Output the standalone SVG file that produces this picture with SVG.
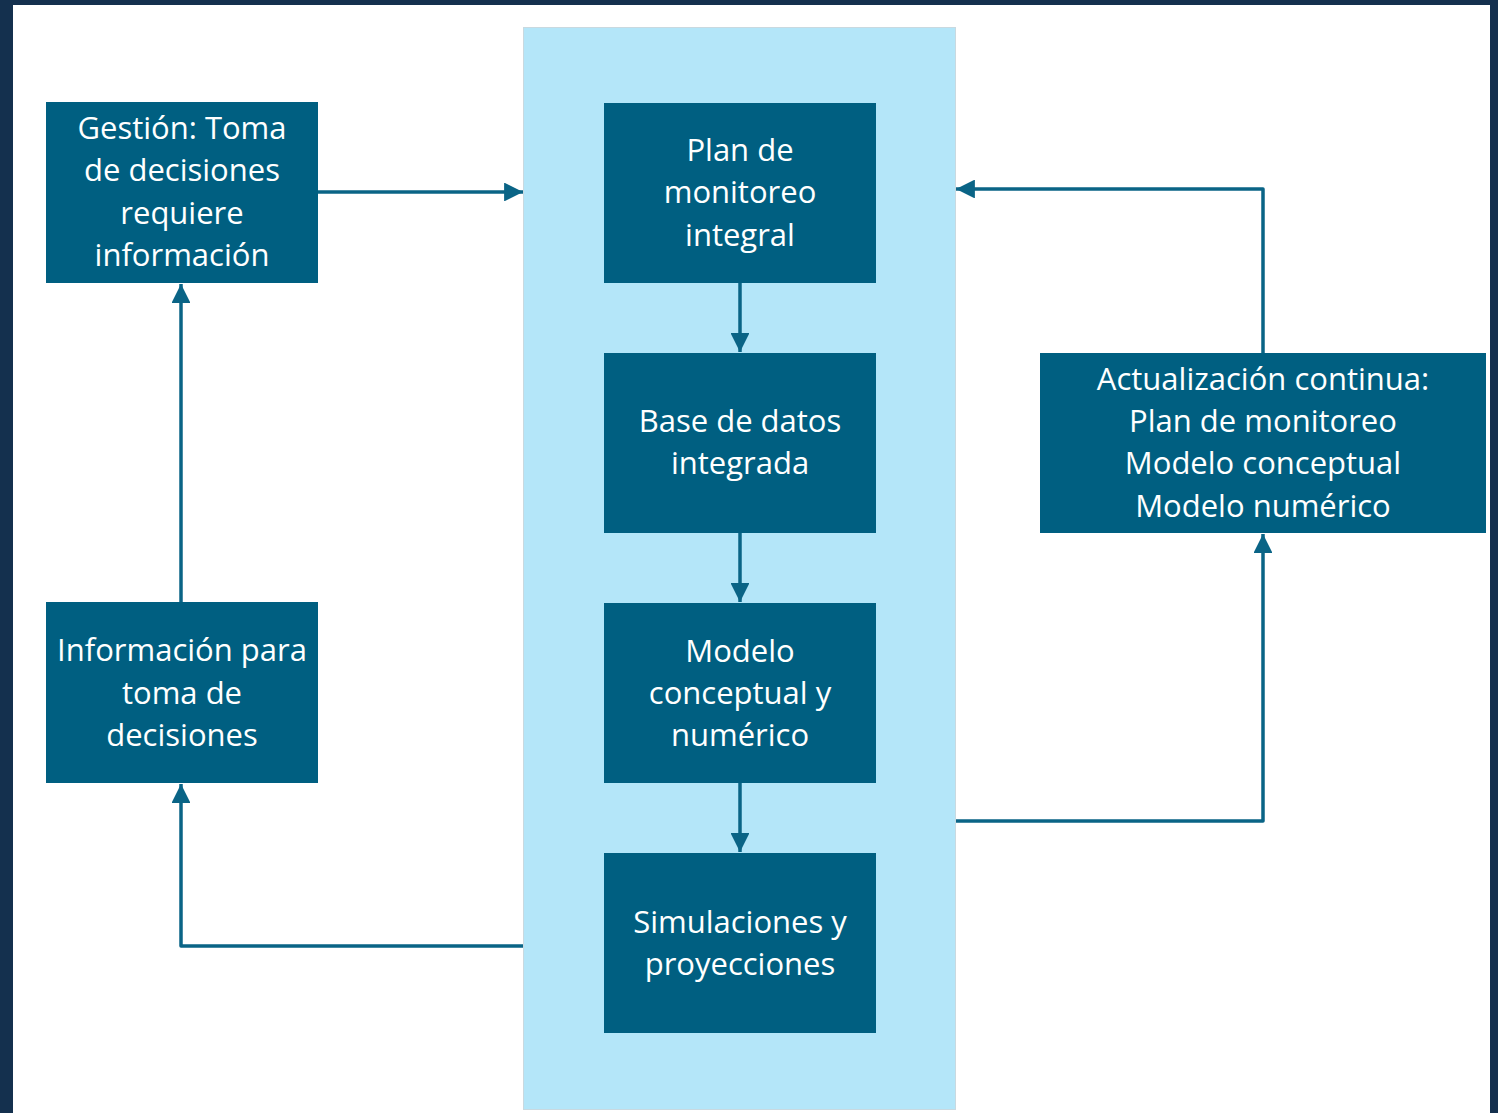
<svg xmlns="http://www.w3.org/2000/svg" width="1498" height="1113" viewBox="0 0 1498 1113">
<defs>
<style>
.node{fill:#005f81;}
.t{font-family:"Open Sans","Noto Sans","Liberation Sans",sans-serif;font-size:31px;fill:#ffffff;text-anchor:middle;}
.c{fill:none;stroke:#0a6486;stroke-width:3.5;stroke-linejoin:round;}
</style>
<marker id="ah" viewBox="0 0 10 10" refX="10" refY="5" markerWidth="5.4" markerHeight="5.4" markerUnits="strokeWidth" orient="auto">
<path d="M0,0 L10,5 L0,10 Z" fill="#0a6486"/>
</marker>
</defs>
<rect x="0" y="0" width="1498" height="1113" fill="#14304e"/>
<rect x="13" y="5" width="1477" height="1108" fill="#ffffff"/>
<rect id="panel" x="523.5" y="27.5" width="432" height="1082" fill="#b4e6f9" stroke="#c9d9e0" stroke-width="1"/>
<g id="connectors">
<path class="c" d="M318,192 L523,192" marker-end="url(#ah)"/>
<path class="c" d="M740,283 L740,352" marker-end="url(#ah)"/>
<path class="c" d="M740,533 L740,602" marker-end="url(#ah)"/>
<path class="c" d="M740,783 L740,852" marker-end="url(#ah)"/>
<path class="c" d="M956,821 L1263,821 L1263,534" marker-end="url(#ah)"/>
<path class="c" d="M1263,353 L1263,189 L956,189" marker-end="url(#ah)"/>
<path class="c" d="M523,946 L181,946 L181,784" marker-end="url(#ah)"/>
<path class="c" d="M181,602 L181,284" marker-end="url(#ah)"/>
</g>
<g id="gestion">
<rect class="node" x="46" y="102" width="272" height="181"/>
<text class="t" x="182" y="139">Gestión: Toma</text>
<text class="t" x="182" y="181">de decisiones</text>
<text class="t" x="182" y="224">requiere</text>
<text class="t" x="182" y="266">información</text>
</g>
<g id="informacion">
<rect class="node" x="46" y="602" width="272" height="181"/>
<text class="t" x="182" y="661">Información para</text>
<text class="t" x="182" y="704">toma de</text>
<text class="t" x="182" y="746">decisiones</text>
</g>
<g id="plan">
<rect class="node" x="604" y="103" width="272" height="180"/>
<text class="t" x="740" y="161">Plan de</text>
<text class="t" x="740" y="203">monitoreo</text>
<text class="t" x="740" y="246">integral</text>
</g>
<g id="base">
<rect class="node" x="604" y="353" width="272" height="180"/>
<text class="t" x="740" y="432">Base de datos</text>
<text class="t" x="740" y="474">integrada</text>
</g>
<g id="modelo">
<rect class="node" x="604" y="603" width="272" height="180"/>
<text class="t" x="740" y="662">Modelo</text>
<text class="t" x="740" y="704">conceptual y</text>
<text class="t" x="740" y="746">numérico</text>
</g>
<g id="simulaciones">
<rect class="node" x="604" y="853" width="272" height="180"/>
<text class="t" x="740" y="933">Simulaciones y</text>
<text class="t" x="740" y="975">proyecciones</text>
</g>
<g id="actualizacion">
<rect class="node" x="1040" y="353" width="446" height="180"/>
<text class="t" x="1263" y="390">Actualización continua:</text>
<text class="t" x="1263" y="432">Plan de monitoreo</text>
<text class="t" x="1263" y="474">Modelo conceptual</text>
<text class="t" x="1263" y="517">Modelo numérico</text>
</g>
</svg>
